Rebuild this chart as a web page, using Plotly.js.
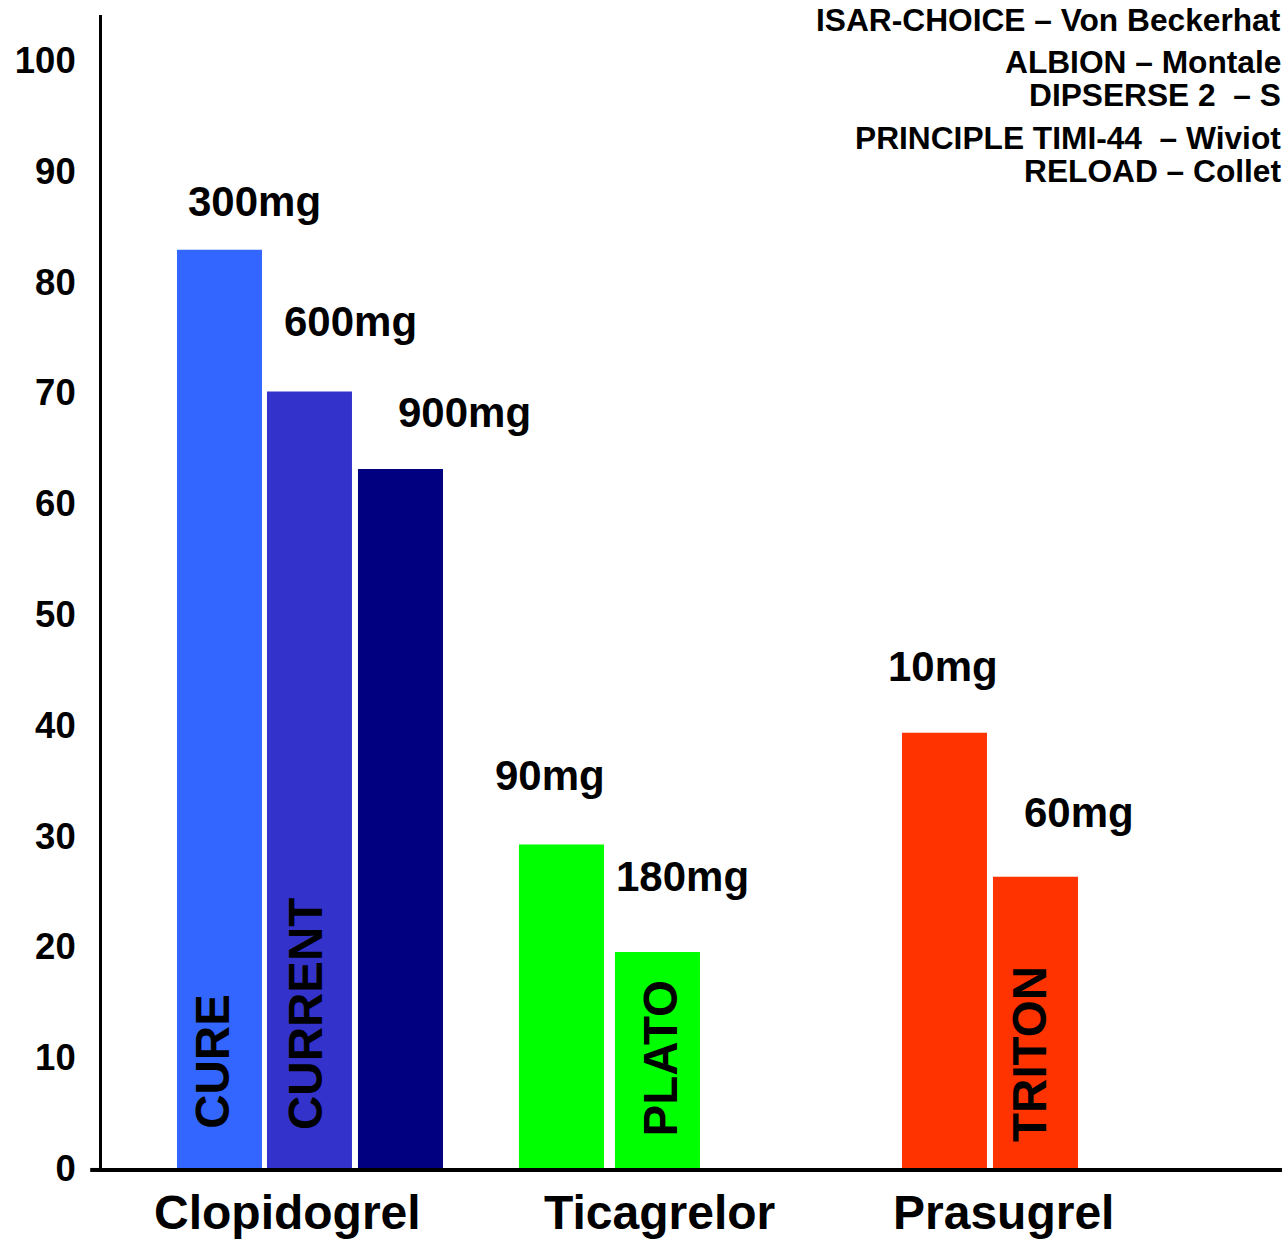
<!DOCTYPE html>
<html>
<head>
<meta charset="utf-8">
<script src="https://cdn.plot.ly/plotly-3.0.1.min.js"></script>
<style>html,body{margin:0;padding:0;background:#fff;}#chart{width:1282px;height:1239px;}</style>
</head>
<body>
<div id="chart"></div>
<script>
// ---- data ----
var drugs = ["Clopidogrel", "Clopidogrel", "Clopidogrel", "Ticagrelor", "Ticagrelor", "Prasugrel", "Prasugrel"];
var doses = ["300mg", "600mg", "900mg", "90mg", "180mg", "10mg", "60mg"];
var values = [82.9, 70.1, 63.1, 29.2, 19.5, 39.3, 26.3];
var trials = ["CURE", "CURRENT", "", "", "PLATO", "", "TRITON"];
var categories = ["Clopidogrel", "Ticagrelor", "Prasugrel"];
var yTicks = [0, 10, 20, 30, 40, 50, 60, 70, 80, 90, 100];
// study list as visible in the reference (cut at the right edge)
var studies = [
  "ISAR-CHOICE \u2013 Von Beckerhat",
  "ALBION \u2013 Montale",
  "DIPSERSE 2 \u00a0\u2013 S",
  "PRINCIPLE TIMI-44 \u00a0\u2013 Wiviot",
  "RELOAD \u2013 Collet"
];

// ---- layout / style config ----
var barColors = ["#3366FF", "#3333CC", "#000080", "#00FF00", "#00FF00", "#FF3300", "#FF3300"];
var barPos = [1.0, 1.989, 2.989, 4.758, 5.813, 8.967, 9.967];
var barWidth = 0.934;
var doseOffset = [-0.373, -0.303, -0.044, -0.753, -0.473, -0.644, -0.146]; // label left edge relative to bar centre (slot units)
var doseLift = [4.4, 6.3, 5.1, 6.2, 6.8, 6.0, 5.8]; // label centre above bar top (value units)
var trialDx = [-0.07, -0.05, 0, 0, 0.03, 0, -0.06];
var trialY = [9.6, 13.9, 0, 0, 9.9, 0, 10.3];
var catPos = [1.752, 5.84, 9.62];
var studyY = [0.9957, 0.9592, 0.9306, 0.8933, 0.8647];
var FONT = "Liberation Sans, Arial, sans-serif";

var traces = [{
  type: "bar",
  x: barPos,
  y: values,
  width: barWidth,
  marker: {color: barColors, line: {width: 0}},
  hoverinfo: "skip",
  showlegend: false
}];

var annotations = [];
for (var i = 0; i < doses.length; i++) {
  annotations.push({
    x: barPos[i] + doseOffset[i], y: values[i] + doseLift[i],
    xref: "x", yref: "y", xanchor: "left", yanchor: "middle",
    text: doses[i], showarrow: false,
    font: {family: FONT, size: 42, color: "#000", weight: "bold"}
  });
  if (trials[i]) {
    annotations.push({
      x: barPos[i] + trialDx[i], y: trialY[i],
      xref: "x", yref: "y", xanchor: "center", yanchor: "middle",
      text: trials[i], textangle: -90, showarrow: false,
      font: {family: FONT, size: 47.5, color: "#000", weight: "bold"}
    });
  }
}
for (var c = 0; c < categories.length; c++) {
  annotations.push({
    x: catPos[c], y: -0.039, xref: "x", yref: "paper",
    xanchor: "center", yanchor: "middle", text: categories[c], showarrow: false,
    font: {family: FONT, size: 48, color: "#000", weight: "bold"}
  });
}
for (var s = 0; s < studies.length; s++) {
  annotations.push({
    x: 1.0, y: studyY[s], xref: "paper", yref: "paper",
    xanchor: "right", yanchor: "middle", text: studies[s], showarrow: false,
    borderpad: 0,
    font: {family: FONT, size: 31.7, color: "#000", weight: "bold"}
  });
}

var layout = {
  width: 1282, height: 1239,
  margin: {l: 102, r: 0, t: 15, b: 71, pad: 0},
  paper_bgcolor: "#fff", plot_bgcolor: "#fff",
  font: {family: FONT, color: "#000"},
  xaxis: {
    range: [-0.291, 12.676], showgrid: false, zeroline: false,
    showline: true, linewidth: 4, linecolor: "#000",
    showticklabels: false, ticks: ""
  },
  yaxis: {
    range: [0, 104.1], showgrid: false, zeroline: false,
    showline: true, linewidth: 3, linecolor: "#000",
    tickvals: yTicks, ticktext: yTicks.map(String), ticks: "", ticklen: 0,
    ticklabelstandoff: 16,
    tickfont: {family: FONT, size: 36.5, color: "#000", weight: "bold"}
  },
  shapes: [{
    type: "line", xref: "paper", yref: "paper",
    x0: -0.01, x1: 0, y0: -0.0017, y1: -0.0017,
    line: {color: "#000", width: 4}
  }],
  annotations: annotations
};

Plotly.newPlot("chart", traces, layout, {displayModeBar: false, staticPlot: true});
</script>
</body>
</html>
